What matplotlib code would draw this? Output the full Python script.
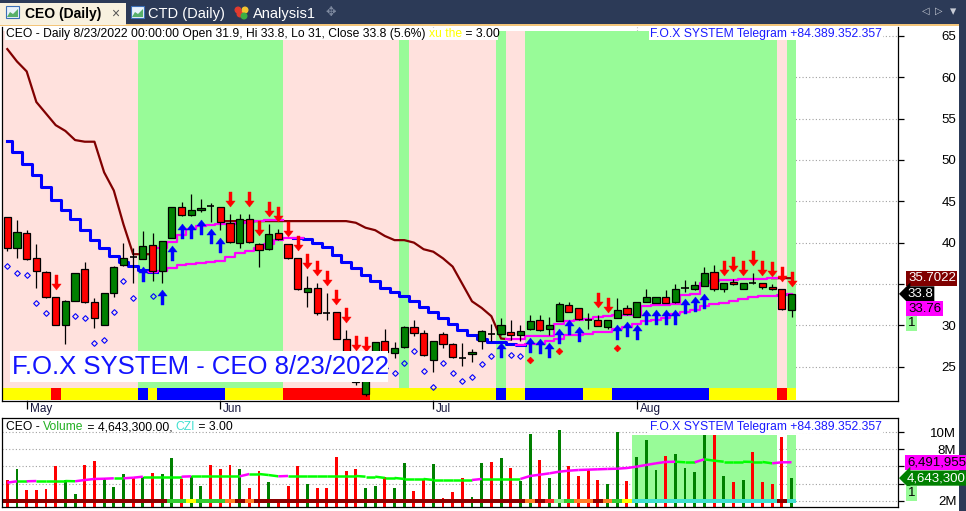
import numpy as np
import pandas as pd
import matplotlib
matplotlib.use("Agg")
import matplotlib.pyplot as plt
from matplotlib.path import Path
from matplotlib.patches import Rectangle, Polygon
from matplotlib import transforms

plt.rcParams['font.family'] = ['Liberation Sans', 'DejaVu Sans']

# ---------------- data ----------------
dates = pd.bdate_range('2022-04-28', '2022-08-23', freq='C',
                       holidays=['2022-05-02', '2022-05-03'])

opens = [43.1, 39.3, 41.2, 38.1, 36.5, 33.4, 30.0, 33.0, 36.8, 32.8,
         30.0, 33.9, 37.3, 38.3, 38.0, 39.7, 36.6, 40.5, 44.3, 43.3,
         43.9, 44.4, 44.3, 42.4, 40.0, 42.8, 39.8, 39.2, 41.2, 39.8,
         38.1, 34.0, 34.5, 31.5, 31.6, 28.4, 25.9, 21.7, 26.5, 28.1,
         26.6, 27.4, 29.8, 29.1, 25.8, 29.0, 27.7, 26.0, 26.5, 28.1,
         29.0, 28.9, 29.15, 28.8, 29.5, 30.7, 29.5, 30.5, 32.45, 32.05,
         30.7, 30.7, 29.8, 30.9, 32.05, 31.0, 32.85, 32.7, 33.4, 32.8,
         34.45, 34.4, 34.75, 36.5, 34.45, 35.2, 34.45, 35.15, 35.1, 34.6,
         34.35, 31.9]
highs = [43.1, 42.7, 41.5, 39.8, 36.6, 33.4, 33.1, 36.3, 37.6, 33.3,
         33.9, 37.2, 40.0, 39.4, 41.4, 41.2, 40.2, 44.3, 44.9, 45.9,
         45.3, 44.8, 44.3, 43.5, 43.5, 43.5, 40.0, 42.3, 41.7, 39.8,
         38.1, 36.0, 35.1, 33.9, 31.6, 29.4, 26.0, 25.9, 28.0, 29.6,
         28.0, 29.9, 30.6, 29.4, 28.1, 29.2, 27.9, 27.9, 27.1, 29.4,
         30.2, 30.85, 30.6, 30.0, 31.25, 31.25, 31.0, 32.8, 32.85, 32.1,
         31.45, 31.25, 30.6, 33.3, 32.45, 32.8, 34.35, 33.4, 34.3, 35.0,
         35.5, 35.4, 37.0, 37.3, 35.1, 35.6, 35.1, 36.3, 35.1, 35.0,
         34.4, 33.8]
lows = [39.0, 38.2, 37.9, 34.5, 33.3, 30.0, 27.7, 33.0, 32.7, 29.7,
        30.0, 33.4, 37.2, 35.15, 38.0, 35.3, 35.15, 40.5, 43.2, 43.2,
        43.7, 42.5, 41.5, 40.0, 39.4, 40.0, 37.1, 39.1, 40.3, 38.0,
        34.3, 32.25, 31.2, 30.6, 28.4, 26.5, 22.8, 21.5, 26.4, 26.7,
        26.0, 27.3, 28.7, 26.3, 24.3, 27.3, 26.1, 25.1, 25.6, 27.1,
        28.1, 28.8, 28.2, 28.1, 29.4, 29.3, 28.8, 30.5, 31.6, 30.7,
        29.55, 29.9, 29.55, 30.9, 31.3, 31.0, 32.8, 32.7, 32.7, 32.7,
        34.05, 34.3, 34.7, 34.2, 34.05, 34.9, 34.4, 35.0, 34.35, 34.3,
        31.85, 31.0]
closes = [39.3, 41.25, 38.0, 36.6, 33.4, 30.0, 33.0, 36.3, 32.8, 30.85,
          33.9, 37.1, 38.1, 38.3, 39.55, 36.6, 40.15, 44.3, 43.3, 43.95,
          44.15, 44.4, 42.45, 40.05, 42.8, 40.1, 39.05, 41.0, 40.4, 38.1,
          34.35, 34.5, 31.5, 31.5, 28.4, 26.8, 23.15, 25.2, 27.95, 26.8,
          27.2, 29.8, 29.1, 26.4, 28.1, 27.7, 26.2, 26.0, 26.75, 29.3,
          29.0, 30.05, 28.8, 29.3, 30.5, 29.45, 30.0, 32.55, 31.65, 30.75,
          30.7, 29.95, 30.6, 31.8, 31.35, 32.8, 33.4, 33.4, 32.75, 34.35,
          34.49, 34.85, 36.3, 34.4, 35.1, 34.95, 35.1, 35.15, 34.6, 34.35,
          32.0, 33.8]

# volume and its average, millions of shares
volume_m = [4.42, 5.67, 3.25, 3.25, 3.37, 6.06, 4.42, 2.75, 6.18, 6.64,
            4.62, 3.57, 5.12, 4.62, 4.74, 5.27, 5.12, 6.96, 4.54, 4.89,
            3.72, 6.18, 5.71, 6.18, 5.71, 3.52, 5.51, 4.22, 2.05, 3.72,
            6.06, 3.95, 3.52, 3.52, 7.08, 5.51, 5.71, 3.45, 3.72, 4.74,
            3.45, 6.44, 3.13, 4.42, 6.29, 2.28, 2.98, 4.62, 2.40, 6.44,
            6.56, 6.96, 5.79, 4.34, 9.80, 6.76, 4.62, 10.27, 6.06, 4.89,
            5.67, 4.42, 3.95, 10.0, 4.34, 7.15, 9.10, 5.59, 7.23, 7.46,
            5.79, 5.39, 9.68, 9.68, 4.89, 4.22, 4.42, 7.66, 4.22, 3.95,
            9.49, 4.6433]
vol_ma_m = [4.11, 4.27, 4.27, 4.30, 4.30, 4.30, 4.30, 4.27, 4.42, 4.54,
            4.57, 4.62, 4.62, 4.69, 4.81, 4.81, 4.81, 4.81, 4.81, 4.85,
            4.85, 4.85, 4.85, 4.85, 4.85, 5.12, 5.12, 5.00, 4.85, 4.89,
            4.89, 4.89, 4.89, 4.89, 4.89, 4.89, 4.89, 4.81, 4.81, 4.66,
            4.66, 4.54, 4.54, 4.54, 4.42, 4.42, 4.42, 4.42, 4.42, 4.54,
            4.54, 4.54, 4.54, 4.54, 4.89, 5.04, 5.20, 5.39, 5.51, 5.59,
            5.63, 5.67, 5.71, 5.74, 5.82, 5.98, 6.18, 6.37, 6.53, 6.56,
            6.49, 6.49, 6.84, 6.68, 6.56, 6.56, 6.56, 6.53, 6.53, 6.37,
            6.49, 6.492]

nan = np.nan
brown_line = ([63.4, 61.9, 60.7, 57.0, 55.6, 54.2, 53.5, 52.4, 52.2, 52.2,
               48.5, 46.3, 42.2, 38.6, 38.6, 38.6] + [nan] * 6 +
              [42.6] * 14 +
              [42.4, 41.8, 41.5, 40.8, 40.3, 40.3, 40.0, 39.2, 38.9, 38.1,
               37.1, 35.0, 32.9, 32.1, 31.1, 28.4, 28.3] + [nan] * 26 +
              [35.70, 35.70, 35.70])
upper_band = ([nan] * 16 +
              [39.3, 40.1, 40.9, 41.7, 42.0, 42.1, 42.2, 42.3, 42.4, 42.5,
               42.6, 42.7, 42.7] + [nan] * 23 +
              [28.3, 28.3, 28.7, 28.7, 28.7, 30.2, 30.5, 30.6, 30.8, 31.0,
               31.1, 31.2, 31.2, 31.25, 32.3, 32.4, 32.5, 32.6, 33.7, 33.8,
               35.1, 35.4, 35.45, 35.5, 35.55, 35.6, 35.65, 35.7] + [nan, nan])
trail = [52.25, 50.95, 49.5, 48.2, 46.7, 45.2, 44.0, 42.9, 41.5, 40.3,
         39.3, 38.4, 37.6, 37.2, 36.7, 36.4, 36.6, 36.9, 37.3, 37.4,
         37.5, 37.6, 37.8, 38.3, 38.7, 39.0, 39.3, 39.8, 40.3, 40.5,
         40.5, 40.4, 39.9, 39.5, 38.5, 37.7, 36.9, 36.1, 35.3, 34.5,
         34.0, 33.6, 33.0, 32.25, 31.6, 30.85, 30.2, 29.4, 28.8, 28.3,
         28.0, 28.0, 27.7, 27.6, 27.7, 27.7, 28.1, 28.3, 28.8, 28.8,
         29.0, 29.2, 29.2, 29.5, 29.8, 30.2, 30.5, 30.7, 30.85, 31.4,
         31.6, 31.8, 32.3, 32.6, 32.7, 33.0, 33.15, 33.4, 33.5, 33.6,
         33.7, 33.76]
trail_state = "D" * 16 + "U" * 15 + "D" * 23 + "U" * 28

background = "P" * 14 + "G" * 15 + "P" * 12 + "G" + "P" * 9 + "G" + "P" * 2 + "G" * 26 + "P" + "G"
trend_strip = ("YYYYYRYYYYYYYYBYBBBBBBBYYYYYYRRRRRRRRRYYYYYYYYYYYYYBYYBBBBBBYYY"
               "BBBBBBBBBBYYYYYYYRY")
czi_strip = ("D" * 17 + "GGYGGGODO" + "D" * 28 + "ODRLGOODOGY" + "C" * 15 + "DC")
vol_zone = "." * 65 + "G" * 15 + ".G"

buy_arrows = [14, 16, 17, 18, 19, 20, 21, 22, 51, 54, 55, 56, 57, 58, 59,
              63, 64, 65, 66, 67, 68, 69, 70, 71, 72]
sell_arrows = [5, 23, 25, 26, 27, 28, 29, 30, 31, 32, 33, 34, 35, 36, 37,
               61, 62, 74, 75, 76, 77, 78, 79, 80, 81]
watch_marks = [0, 1, 2, 3, 4, 6, 7, 8, 9, 10, 11, 12, 13, 15, 38, 39, 40,
               41, 42, 43, 44, 45, 46, 47, 48, 49, 50, 52, 53]
red_marks = [54, 57, 63]

price_ticks = [25, 30, 35, 40, 45, 50, 55, 60, 65]
price_hidden = [35]          # covered by the value boxes
vol_ticks = [2, 4, 6, 8, 10]
vol_hidden = [4, 6]
last_stop = 35.7022
last_band = 33.76
last_ma_vol = 6491955

# ---------------- figure ----------------
W, H = 966, 511
fig = plt.figure(figsize=(W / 100, H / 100), dpi=100)
fig.patch.set_facecolor('white')


def px_rect(x0, y0, x1, y1):
    return [x0 / W, 1 - y1 / H, (x1 - x0) / W, (y1 - y0) / H]


ax = fig.add_axes(px_rect(1.5, 27, 898, 401))
axv = fig.add_axes(px_rect(1.5, 418, 898, 507))
ov = fig.add_axes([0, 0, 1, 1], zorder=10)
ov.set_xlim(0, W)
ov.set_ylim(H, 0)
ov.axis('off')
ov.patch.set_alpha(0)

n = len(closes)
x = np.arange(n)
o = np.array(opens); h = np.array(highs); l = np.array(lows); c = np.array(closes)
up = c > o
RED, GREEN = '#ff0000', '#008000'

ax.set_xlim(-0.6, 92.0)
ax.set_ylim(20.85, 66.07)
axv.set_xlim(-0.6, 92.0)
axv.set_ylim(1.263, 11.67)

# months
month_idx = [i for i in range(1, n) if dates[i].month != dates[i - 1].month]
month_lab = [dates[i].strftime('%b') for i in month_idx]

for a in (ax, axv):
    for s in a.spines.values():
        s.set_color('black')
        s.set_linewidth(0.9)
    a.set_axisbelow(True)
ax.spines['top'].set_visible(False)

# grid
ax.set_yticks(price_ticks)
ax.set_yticklabels(['' if v in price_hidden else str(v) for v in price_ticks])
ax.grid(True, axis='y', ls=(0, (1, 2)), color='#a0a0a0', lw=0.8)
for m in month_idx:
    ax.axvline(m, ls=(0, (1, 2)), color='#a0a0a0', lw=0.8, zorder=0.5)
axv.set_yticks(vol_ticks)
axv.grid(True, axis='y', ls=(0, (1, 2)), color='#a0a0a0', lw=0.8)

# background zones
shade_lo = transforms.blended_transform_factory(ax.transData, ax.transAxes)
zone_col = {'G': '#98fb98', 'P': '#ffe1dd'}
for i, z in enumerate(background):
    ax.add_patch(Rectangle((i - 0.5, 0.0356), 1.0, 0.9536, transform=shade_lo,
                           facecolor=zone_col[z], edgecolor='none', zorder=1))
strip_col = {'Y': '#ffff00', 'R': '#ff0000', 'B': '#0000ff'}
for i, z in enumerate(trend_strip):
    ax.add_patch(Rectangle((i - 0.5, 0.0027), 1.0, 0.0329, transform=shade_lo,
                           facecolor=strip_col[z], edgecolor='none', zorder=1.2))

# indicator lines
bl = np.array(brown_line)
ax.plot(x, bl, color='#800000', lw=1.6, zorder=2)
ub = np.array(upper_band)
ax.plot(x, ub, color='#ff00ff', lw=1.6, zorder=2, drawstyle='steps-mid')
tr = np.array(trail)
st = np.array(list(trail_state))
blue_part = np.where(st == 'D', tr, np.nan)
mag_part = np.where(st == 'U', tr, np.nan)
for i in range(1, n):  # join the two colours
    if st[i] != st[i - 1]:
        if st[i] == 'U':
            mag_part[i - 1] = tr[i - 1]
        else:
            blue_part[i - 1] = tr[i - 1]
ax.plot(x, blue_part, color='#0000ff', lw=2.2, zorder=2, drawstyle='steps-mid')
ax.plot(x, mag_part, color='#ff00ff', lw=1.6, zorder=2, drawstyle='steps-mid')

# candles
ax.vlines(x, l, h, color='black', lw=0.9, zorder=3)
doji = np.abs(c - o) < 0.05
body_b = np.minimum(o, c)
body_h = np.abs(c - o)
cols = np.where(up, GREEN, RED)
ax.bar(x[~doji], body_h[~doji], bottom=body_b[~doji], width=0.74,
       color=cols[~doji], edgecolor='black', linewidth=0.9, zorder=3.1)
ax.hlines(c[doji], x[doji] - 0.37, x[doji] + 0.37, color='black', lw=1.2, zorder=3.1)

# signal markers
up_arrow = Path([(0, 1), (-0.62, 0.2), (-0.2, 0.2), (-0.2, -1), (0.2, -1),
                 (0.2, 0.2), (0.62, 0.2), (0, 1)], closed=True)
dn_arrow = Path([(0, -1), (-0.62, -0.2), (-0.2, -0.2), (-0.2, 1), (0.2, 1),
                 (0.2, -0.2), (0.62, -0.2), (0, -1)], closed=True)
below = transforms.offset_copy(ax.transData, fig=fig, y=-14.5, units='dots')
above = transforms.offset_copy(ax.transData, fig=fig, y=15.0, units='dots')
diam_t = transforms.offset_copy(ax.transData, fig=fig, y=-15.0, units='dots')
dot_t = transforms.offset_copy(ax.transData, fig=fig, y=-30.0, units='dots')
ax.plot(x[buy_arrows], l[buy_arrows], ls='none', marker=up_arrow, ms=10.8,
        mfc='#0000ff', mec='#0000ff', mew=0.3, transform=below, zorder=4)
ax.plot(x[sell_arrows], h[sell_arrows], ls='none', marker=dn_arrow, ms=10.8,
        mfc='#ff0000', mec='#ff0000', mew=0.3, transform=above, zorder=4)
ax.plot(x[watch_marks], l[watch_marks], ls='none', marker='D', ms=2.9,
        mfc='none', mec='#0000ff', mew=0.8, transform=diam_t, zorder=4)
ax.plot(x[red_marks], l[red_marks], ls='none', marker='D', ms=3.4,
        mfc='#ff0000', mec='#ff0000', mew=0.5, transform=dot_t, zorder=4)

# axes ticks
ax.yaxis.tick_right()
ax.tick_params(axis='y', direction='out', length=4, width=0.9, pad=38,
               labelsize=9.5, colors='black')
for t in ax.get_yticklabels():
    t.set_ha('right')
ax.set_xticks(month_idx)
ax.set_xticklabels(month_lab)
ax.tick_params(axis='x', direction='out', length=6, width=0.9, pad=-4.5,
               labelsize=8.5, labelcolor='#14143c')
shift = transforms.ScaledTranslation(3 / 100, 0, fig.dpi_scale_trans)
for t in ax.get_xticklabels():
    t.set_ha('left')
    t.set_transform(t.get_transform() + shift)

axv.yaxis.tick_right()
axv.set_yticklabels(['' if v in vol_hidden else f'{v}M' for v in vol_ticks])
axv.tick_params(axis='y', direction='out', length=4, width=0.9, pad=38,
                labelsize=9.5)
for t in axv.get_yticklabels():
    t.set_ha('right')
axv.set_xticks(month_idx)
axv.tick_params(axis='x', direction='in', length=3, labelbottom=False,
                colors='#b0b0b0')

# volume pane
vshade = transforms.blended_transform_factory(axv.transData, axv.transAxes)
for i, z in enumerate(vol_zone):
    if z == 'G':
        axv.add_patch(Rectangle((i - 0.5, 0.09), 1.0, 0.72, transform=vshade,
                                facecolor='#98fb98', edgecolor='none', zorder=0.8))
vm = np.array(volume_m)
axv.bar(x, vm - 1.263, bottom=1.263, width=0.3, color=cols, zorder=2)
czi_col = {'D': '#8b0000', 'G': '#32cd32', 'Y': '#ffff00', 'O': '#ff7f27',
           'R': '#ff2a2a', 'L': '#90ee90', 'C': '#40e0d0'}
for i, z in enumerate(czi_strip):
    axv.add_patch(Rectangle((i - 0.5, 0.048), 1.0, 0.045, transform=vshade,
                            facecolor=czi_col[z], edgecolor='none', zorder=2.5))
ma = np.array(vol_ma_m)
for i in range(1, n):
    col = '#00ff00' if ma[i] <= ma[i - 1] else '#ff00ff'
    axv.plot([i - 1, i], [ma[i - 1], ma[i]], color=col, lw=1.8, zorder=3,
             solid_capstyle='butt')


# ---------------- overlay: tabs, titles, value boxes ----------------
def text_width(s, **kw):
    r = fig.canvas.get_renderer()
    t1 = ov.text(0, 0, s + '|', **kw)
    t2 = ov.text(0, 0, '|', **kw)
    w = t1.get_window_extent(r).width - t2.get_window_extent(r).width
    t1.remove(); t2.remove()
    return w


def runs(x0, y0, parts, **kw):
    xx = x0
    for s, col in parts:
        ov.text(xx, y0, s, color=col, va='center', ha='left', **kw)
        xx += text_width(s, **kw)
    return xx


NAVY = '#2c3a57'
ov.add_patch(Rectangle((0, 0), W, 24, facecolor=NAVY, edgecolor='none'))
ov.add_patch(Rectangle((959, 24), 7, H - 24, facecolor=NAVY, edgecolor='none'))
ov.add_patch(Rectangle((0, 24), 959, 2.5, facecolor='#f3c57a', edgecolor='none'))
ov.add_patch(Rectangle((0, 3), 126, 22, facecolor='#f8f1df', edgecolor='none'))
for ix, fill in ((6, '#58b06a'), (131, '#58b06a')):
    ov.add_patch(Rectangle((ix, 6), 13, 12, facecolor='#e8f2fb', edgecolor='#3b6fb6', lw=0.8))
    ov.add_patch(Polygon([(ix + 1, 17), (ix + 4, 12), (ix + 7, 14), (ix + 12, 9), (ix + 12, 17)],
                         closed=True, facecolor=fill, edgecolor='none'))
for (cx, cy, col) in ((240, 14, '#e23b2e'), (245, 10, '#f4c430'), (244, 16, '#3cb043'),
                      (238, 10, '#e23b2e')):
    ov.add_patch(plt.Circle((cx, cy), 2.8, color=col))
ov.text(25, 14, 'CEO (Daily)', fontsize=10, fontweight='bold', va='center', color='black')
ov.text(115, 13.5, '×', fontsize=10, va='center', ha='center', color='#555555')
ov.text(148, 14, 'CTD (Daily)', fontsize=10.5, va='center', color='white')
ov.text(253, 14, 'Analysis1', fontsize=10.5, va='center', color='white')
ov.text(331, 13, '✥', fontsize=9, va='center', ha='center', color='#7f8aa0',
        family='DejaVu Sans')
ov.text(926, 11, '◁', fontsize=7, va='center', ha='center', color='#c8ccd6', family='DejaVu Sans')
ov.text(939, 11, '▷', fontsize=7, va='center', ha='center', color='#c8ccd6', family='DejaVu Sans')
ov.text(953, 12, '▾', fontsize=9, va='center', ha='center', color='#c8ccd6', family='DejaVu Sans')

FS = 8.75
ov.add_patch(Rectangle((5, 28), 493, 12, facecolor='white', edgecolor='none'))
runs(6, 34, [('CEO - Daily 8/23/2022 00:00:00 Open 31.9, Hi 33.8, Lo 31, Close 33.8 (5.6%) ', 'black'),
             ('xu the', '#ffff00'), (' = 3.00', 'black')], fontsize=FS)
tg = 'F.O.X SYSTEM Telegram +84.389.352.357'
tgw = text_width(tg, fontsize=FS)
for ty in (34, 427):
    ov.add_patch(Rectangle((882 - tgw - 1, ty - 6), tgw + 2, 12, facecolor='white', edgecolor='none'))
    ov.text(882, ty, tg, fontsize=FS, ha='right', va='center', color='#1a1aff')

runs(6, 427.5, [('CEO - ', 'black'), ('Volume', '#22b022'), (' = 4,643,300.00, ', 'black'),
                ('CZI', '#40e0d0'), (' = 3.00', 'black')], fontsize=FS)

big = 'F.O.X SYSTEM - CEO 8/23/2022'
ov.add_patch(Rectangle((10, 350.7), 378, 31, facecolor='white', edgecolor='none'))
ov.text(12, 367, big, fontsize=18.5, va='center', ha='left', color='#1414ff')


def py(a, v):
    return H - a.transData.transform((0, v))[1]


def value_box(xl, yc, s, fc, tc, arrow=False):
    style = 'larrow,pad=0.12' if arrow else 'square,pad=0.12'
    ov.text(xl, yc, s, fontsize=9.5, va='center', ha='left', color=tc,
            bbox=dict(boxstyle=style, fc=fc, ec='none'))


value_box(908, py(ax, last_stop), f'{last_stop:.4f}', '#800000', 'white')
value_box(907, py(ax, c[-1]), f'{c[-1]:g}', 'black', 'white', arrow=True)
value_box(908, py(ax, c[-1]) + 15, f'{last_band:.2f}', '#ff00ff', 'black')
value_box(908, py(ax, c[-1]) + 29.5, '1', '#98fb98', 'black')

value_box(907, py(axv, last_ma_vol / 1e6), f'{last_ma_vol:,}', '#ff00ff', 'black')
value_box(907, py(axv, vm[-1]), f'{int(round(vm[-1] * 1e6)):,}', '#008000', 'white', arrow=True)
value_box(908, py(axv, vm[-1]) + 15, '1', '#98fb98', 'black')

fig.savefig('out.png', dpi=100, facecolor='white')
